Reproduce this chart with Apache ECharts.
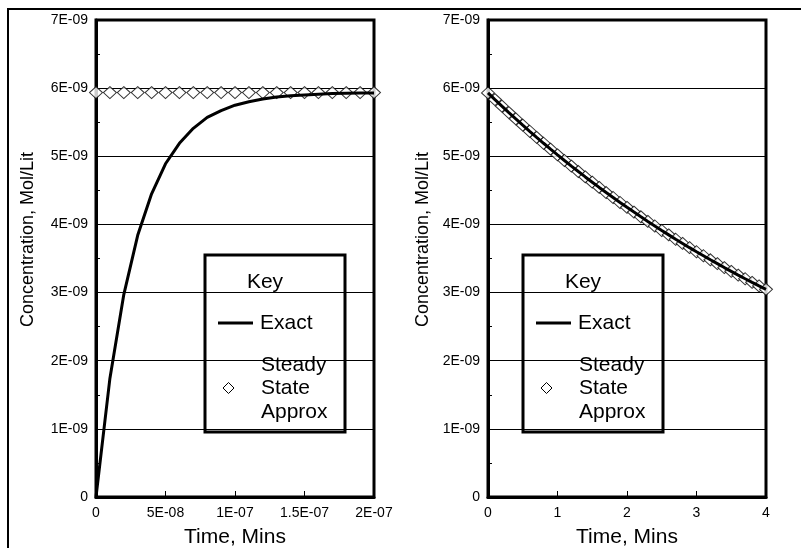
<!DOCTYPE html>
<html>
<head>
<meta charset="utf-8">
<script src="https://cdn.jsdelivr.net/npm/echarts@6/dist/echarts.min.js"></script>
<style>
  html, body { margin: 0; padding: 0; background: #fff; }
  #chart { width: 801px; height: 548px; }
</style>
</head>
<body>
<div id="chart"></div>
<script>
  // left panel: short times (minutes)
  var leftTime = [0, 1e-8, 2e-8, 3e-8, 4e-8, 5e-8, 6e-8, 7e-8, 8e-8, 9e-8, 1e-7,
    1.1e-7, 1.2e-7, 1.3e-7, 1.4e-7, 1.5e-7, 1.6e-7, 1.7e-7, 1.8e-7, 1.9e-7, 2e-7];
  var leftExact = [0, 1.74e-9, 2.97e-9, 3.84e-9, 4.45e-9, 4.89e-9, 5.19e-9, 5.41e-9, 5.57e-9, 5.67e-9, 5.75e-9,
    5.80e-9, 5.84e-9, 5.87e-9, 5.89e-9, 5.90e-9, 5.91e-9, 5.92e-9, 5.925e-9, 5.93e-9, 5.93e-9];
  var leftSteady = [5.935e-9, 5.935e-9, 5.935e-9, 5.935e-9, 5.935e-9, 5.935e-9, 5.935e-9, 5.935e-9, 5.935e-9, 5.935e-9, 5.935e-9,
    5.935e-9, 5.935e-9, 5.935e-9, 5.935e-9, 5.935e-9, 5.935e-9, 5.935e-9, 5.935e-9, 5.935e-9, 5.935e-9];

  // right panel: long times (minutes)
  var rightTime = [0, 0.1, 0.2, 0.3, 0.4, 0.5, 0.6, 0.7, 0.8, 0.9, 1.0,
    1.1, 1.2, 1.3, 1.4, 1.5, 1.6, 1.7, 1.8, 1.9, 2.0,
    2.1, 2.2, 2.3, 2.4, 2.5, 2.6, 2.7, 2.8, 2.9, 3.0,
    3.1, 3.2, 3.3, 3.4, 3.5, 3.6, 3.7, 3.8, 3.9, 4.0];
  var rightExact = [5.930e-9, 5.832e-9, 5.736e-9, 5.641e-9, 5.548e-9, 5.457e-9, 5.367e-9, 5.278e-9, 5.191e-9, 5.105e-9, 5.021e-9,
    4.938e-9, 4.856e-9, 4.776e-9, 4.697e-9, 4.620e-9, 4.543e-9, 4.468e-9, 4.395e-9, 4.322e-9, 4.251e-9,
    4.181e-9, 4.112e-9, 4.044e-9, 3.977e-9, 3.911e-9, 3.847e-9, 3.783e-9, 3.721e-9, 3.659e-9, 3.599e-9,
    3.540e-9, 3.481e-9, 3.424e-9, 3.367e-9, 3.312e-9, 3.257e-9, 3.203e-9, 3.150e-9, 3.098e-9, 3.047e-9];
  var rightSteady = [5.930e-9, 5.832e-9, 5.736e-9, 5.641e-9, 5.548e-9, 5.457e-9, 5.367e-9, 5.278e-9, 5.191e-9, 5.105e-9, 5.021e-9,
    4.938e-9, 4.856e-9, 4.776e-9, 4.697e-9, 4.620e-9, 4.543e-9, 4.468e-9, 4.395e-9, 4.322e-9, 4.251e-9,
    4.181e-9, 4.112e-9, 4.044e-9, 3.977e-9, 3.911e-9, 3.847e-9, 3.783e-9, 3.721e-9, 3.659e-9, 3.599e-9,
    3.540e-9, 3.481e-9, 3.424e-9, 3.367e-9, 3.312e-9, 3.257e-9, 3.203e-9, 3.150e-9, 3.098e-9, 3.047e-9];

  var FONT = '"Liberation Sans", Arial, sans-serif';

  function pairs(xs, ys) {
    var out = [];
    for (var i = 0; i < xs.length; i++) {
      out.push([xs[i], ys[i]]);
    }
    return out;
  }

  // 5e-8 -> 5E-08
  function sci(v) {
    if (v === 0) return '0';
    var s = Number(v.toPrecision(6)).toExponential();
    var p = s.split('e');
    var e = parseInt(p[1], 10);
    var a = Math.abs(e);
    return p[0] + 'E' + (e < 0 ? '-' : '+') + (a < 10 ? '0' + a : a);
  }

  function yAxisOpt(idx, gap) {
    return {
      type: 'value',
      gridIndex: idx,
      min: 0,
      max: 7e-9,
      interval: 1e-9,
      name: 'Concentration, Mol/Lit',
      nameLocation: 'middle',
      nameGap: gap,
      nameTextStyle: { color: '#000', fontSize: 18, fontFamily: FONT, padding: [0, 0, 0, 38] },
      axisLine: { show: true, lineStyle: { color: '#000', width: 3 } },
      axisTick: { show: true, inside: true, length: 5, lineStyle: { color: '#000' } },
      minorTick: { show: true, splitNumber: 2, length: 4, lineStyle: { color: '#000' } },
      splitLine: { show: true, lineStyle: { color: '#000', width: 1 } },
      axisLabel: { color: '#000', fontSize: 14, fontFamily: FONT, margin: 8, formatter: sci }
    };
  }

  function xAxisOpt(idx, max, interval, fmt) {
    return {
      type: 'value',
      gridIndex: idx,
      min: 0,
      max: max,
      interval: interval,
      name: 'Time, Mins',
      nameLocation: 'middle',
      nameGap: 30,
      nameTextStyle: { color: '#000', fontSize: 21, fontFamily: FONT },
      axisLine: { show: true, lineStyle: { color: '#000', width: 3 } },
      axisTick: { show: true, inside: true, length: 6, lineStyle: { color: '#000' } },
      splitLine: { show: false },
      axisLabel: { color: '#000', fontSize: 14, fontFamily: FONT, margin: 9, formatter: fmt }
    };
  }

  function keyBox(x) {
    var txt = { fill: '#000', fontSize: 21, fontFamily: FONT, textVerticalAlign: 'middle' };
    return {
      type: 'group',
      x: x,
      y: 255,
      z: 100,
      children: [
        { type: 'rect', shape: { x: 0, y: 0, width: 140, height: 177 },
          style: { fill: '#fff', stroke: '#000', lineWidth: 3 } },
        { type: 'text', x: 60, y: 27, style: Object.assign({ text: 'Key', textAlign: 'center' }, txt) },
        { type: 'line', shape: { x1: 13, y1: 68, x2: 48, y2: 68 }, style: { stroke: '#000', lineWidth: 3 } },
        { type: 'text', x: 55, y: 68, style: Object.assign({ text: 'Exact' }, txt) },
        { type: 'text', x: 56, y: 110, style: Object.assign({ text: 'Steady' }, txt) },
        { type: 'text', x: 56, y: 133, style: Object.assign({ text: 'State' }, txt) },
        { type: 'text', x: 56, y: 157, style: Object.assign({ text: 'Approx' }, txt) },
        { type: 'polygon', shape: { points: [[23.5, 127.5], [29, 133], [23.5, 138.5], [18, 133]] },
          style: { fill: '#fff', stroke: '#000', lineWidth: 1 } }
      ]
    };
  }

  var chart = echarts.init(document.getElementById('chart'));
  chart.setOption({
    backgroundColor: '#fff',
    animation: false,
    grid: [
      { left: 96, top: 20, width: 278, height: 477, outerBoundsMode: 'none', show: true,
        borderColor: '#000', borderWidth: 3, backgroundColor: 'transparent' },
      { left: 488, top: 20, width: 278, height: 477, outerBoundsMode: 'none', show: true,
        borderColor: '#000', borderWidth: 3, backgroundColor: 'transparent' }
    ],
    xAxis: [
      xAxisOpt(0, 2e-7, 5e-8, sci),
      xAxisOpt(1, 4, 1, function (v) { return String(v); })
    ],
    yAxis: [yAxisOpt(0, 59), yAxisOpt(1, 56)],
    series: [
      {
        name: 'Steady State Approx',
        type: 'scatter',
        xAxisIndex: 0,
        yAxisIndex: 0,
        clip: false,
        symbol: 'diamond',
        symbolSize: [13, 12],
        itemStyle: { color: '#fff', borderColor: '#000', borderWidth: 1 },
        z: 3,
        data: pairs(leftTime, leftSteady)
      },
      {
        name: 'Exact',
        type: 'line',
        xAxisIndex: 0,
        yAxisIndex: 0,
        showSymbol: false,
        lineStyle: { color: '#000', width: 3 },
        z: 4,
        data: pairs(leftTime, leftExact)
      },
      {
        name: 'Steady State Approx',
        type: 'scatter',
        xAxisIndex: 1,
        yAxisIndex: 1,
        clip: false,
        symbol: 'diamond',
        symbolSize: [13, 12],
        itemStyle: { color: '#fff', borderColor: '#000', borderWidth: 1 },
        z: 3,
        data: pairs(rightTime, rightSteady)
      },
      {
        name: 'Exact',
        type: 'line',
        xAxisIndex: 1,
        yAxisIndex: 1,
        showSymbol: false,
        lineStyle: { color: '#000', width: 3 },
        z: 4,
        data: pairs(rightTime, rightExact)
      }
    ],
    graphic: [
      { type: 'rect', z: 100, shape: { x: 8, y: 9, width: 900, height: 700 },
        style: { fill: 'none', stroke: '#000', lineWidth: 2 } },
      keyBox(205),
      keyBox(523)
    ]
  });
</script>
</body>
</html>
